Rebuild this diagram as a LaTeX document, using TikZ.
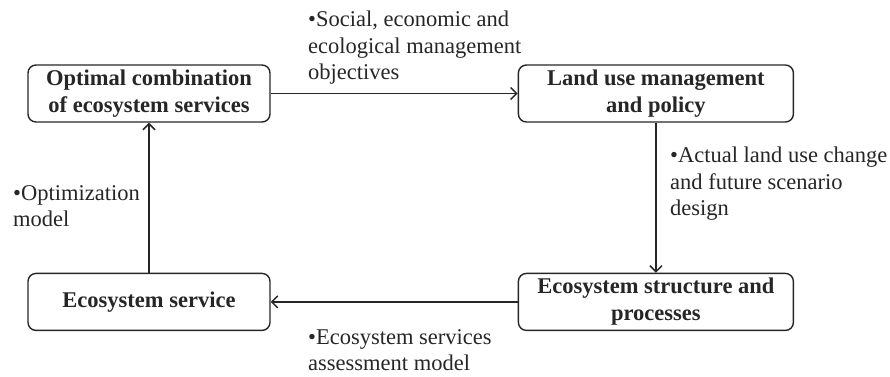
\documentclass[tikz,border=0pt]{standalone}
\usepackage{fontspec}
\setmainfont{Liberation Serif}
\usetikzlibrary{arrows.meta,positioning}

\begin{document}
\begin{tikzpicture}[x=1pt,y=-1pt,
  arr/.style={-{Straight Barb[length=6pt,width=12pt]}, line width=1.5pt, draw=black!85},
  box/.style={rectangle, draw=black!85, line width=1.4pt, rounded corners=8pt,
              minimum height=57pt, align=center, inner sep=0pt,
              font=\fontsize{22.5}{27}\selectfont\bfseries, text=black!85},
  note/.style={anchor=north west, align=left, inner sep=0pt,
               font=\fontsize{22.5}{26.5}\selectfont, text=black!85},
]
\useasboundingbox (0,0) rectangle (890,376);

\node[box, minimum width=242pt] (optimal) at (149,93.5) {Optimal combination\\of ecosystem services};
\node[box, minimum width=275pt, right=247pt of optimal] (landuse) {Land use management\\and policy};
\node[box, minimum width=275pt, below=150pt of landuse] (structure) {Ecosystem structure and\\processes};
\node[box, minimum width=242pt, below=150pt of optimal] (service) {Ecosystem service};

% Cycle
\draw[arr] (optimal) -- (landuse);
\draw[arr] (landuse) -- (structure);
\draw[arr] (structure) -- (service);
\draw[arr] (service) -- (optimal);

% Labels
\node[note] (objlbl) at (308,11) {•Social, economic and\\ecological management\\objectives};
\node[note] (scenlbl) at (670,147) {•Actual land use change\\and future scenario\\design};
\node[note] (assesslbl) at (308,329) {•Ecosystem services\\assessment model};
\node[note] (optlbl) at (13,185) {•Optimization\\model};
\end{tikzpicture}
\end{document}
